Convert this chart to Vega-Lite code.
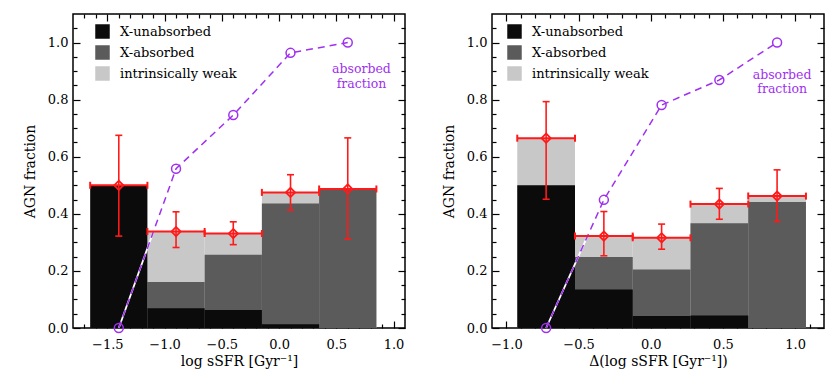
{
  "$schema": "https://vega.github.io/schema/vega-lite/v6.json",
  "padding": {"left": 22, "top": 12, "right": 5, "bottom": 5},
  "config": {
    "view": {"stroke": "black", "strokeWidth": 1.5},
    "font": "DejaVu Serif",
    "axis": {"labelFont": "DejaVu Serif", "labelFontSize": 13, "labelColor": "black", "titleFont": "DejaVu Serif", "titleFontSize": 14, "titleFontWeight": "normal", "titleColor": "black", "domain": false, "grid": false, "tickColor": "black", "tickWidth": 1.2, "labelFlush": false, "labelOverlap": false},
    "legend": {"labelFont": "DejaVu Serif", "labelFontSize": 13, "labelColor": "black"}
  },
  "datasets": {
    "bars1": [
      {"cat": "intrinsically weak", "lo": -1.15, "hi": -0.65, "top": 0.338},
      {"cat": "intrinsically weak", "lo": -0.65, "hi": -0.15, "top": 0.331},
      {"cat": "intrinsically weak", "lo": -0.15, "hi": 0.35, "top": 0.475},
      {"cat": "intrinsically weak", "lo": 0.35, "hi": 0.85, "top": 0.487},
      {"cat": "X-absorbed", "lo": -1.15, "hi": -0.65, "top": 0.161},
      {"cat": "X-absorbed", "lo": -0.65, "hi": -0.15, "top": 0.257},
      {"cat": "X-absorbed", "lo": -0.15, "hi": 0.35, "top": 0.436},
      {"cat": "X-absorbed", "lo": 0.35, "hi": 0.85, "top": 0.484},
      {"cat": "X-unabsorbed", "lo": -1.65, "hi": -1.15, "top": 0.5},
      {"cat": "X-unabsorbed", "lo": -1.15, "hi": -0.65, "top": 0.069},
      {"cat": "X-unabsorbed", "lo": -0.65, "hi": -0.15, "top": 0.063},
      {"cat": "X-unabsorbed", "lo": -0.15, "hi": 0.35, "top": 0.013}
    ],
    "bars2": [
      {"cat": "intrinsically weak", "lo": -0.925, "hi": -0.525, "top": 0.665},
      {"cat": "intrinsically weak", "lo": -0.525, "hi": -0.125, "top": 0.321},
      {"cat": "intrinsically weak", "lo": -0.125, "hi": 0.275, "top": 0.316},
      {"cat": "intrinsically weak", "lo": 0.275, "hi": 0.675, "top": 0.434},
      {"cat": "intrinsically weak", "lo": 0.675, "hi": 1.075, "top": 0.461},
      {"cat": "X-absorbed", "lo": -0.525, "hi": -0.125, "top": 0.249},
      {"cat": "X-absorbed", "lo": -0.125, "hi": 0.275, "top": 0.205},
      {"cat": "X-absorbed", "lo": 0.275, "hi": 0.675, "top": 0.367},
      {"cat": "X-absorbed", "lo": 0.675, "hi": 1.075, "top": 0.441},
      {"cat": "X-unabsorbed", "lo": -0.925, "hi": -0.525, "top": 0.5},
      {"cat": "X-unabsorbed", "lo": -0.525, "hi": -0.125, "top": 0.135},
      {"cat": "X-unabsorbed", "lo": -0.125, "hi": 0.275, "top": 0.042},
      {"cat": "X-unabsorbed", "lo": 0.275, "hi": 0.675, "top": 0.044}
    ],
    "err1": [
      {"x": -1.4, "lo": -1.65, "hi": -1.15, "y": 0.5, "elo": 0.322, "ehi": 0.675},
      {"x": -0.9, "lo": -1.15, "hi": -0.65, "y": 0.338, "elo": 0.282, "ehi": 0.407},
      {"x": -0.4, "lo": -0.65, "hi": -0.15, "y": 0.331, "elo": 0.292, "ehi": 0.372},
      {"x": 0.1, "lo": -0.15, "hi": 0.35, "y": 0.475, "elo": 0.413, "ehi": 0.537},
      {"x": 0.6, "lo": 0.35, "hi": 0.85, "y": 0.487, "elo": 0.311, "ehi": 0.666}
    ],
    "err2": [
      {"x": -0.725, "lo": -0.925, "hi": -0.525, "y": 0.665, "elo": 0.451, "ehi": 0.793},
      {"x": -0.325, "lo": -0.525, "hi": -0.125, "y": 0.322, "elo": 0.253, "ehi": 0.408},
      {"x": 0.075, "lo": -0.125, "hi": 0.275, "y": 0.316, "elo": 0.276, "ehi": 0.364},
      {"x": 0.475, "lo": 0.275, "hi": 0.675, "y": 0.434, "elo": 0.381, "ehi": 0.489},
      {"x": 0.875, "lo": 0.675, "hi": 1.075, "y": 0.462, "elo": 0.373, "ehi": 0.554}
    ],
    "frac1": [
      {"x": -1.4, "f": 0.0},
      {"x": -0.9, "f": 0.558},
      {"x": -0.4, "f": 0.746},
      {"x": 0.1, "f": 0.964},
      {"x": 0.6, "f": 1.0}
    ],
    "frac2": [
      {"x": -0.725, "f": 0.0},
      {"x": -0.325, "f": 0.449},
      {"x": 0.075, "f": 0.781},
      {"x": 0.475, "f": 0.869},
      {"x": 0.875, "f": 1.0}
    ],
    "lab1": [{"x": 0.72, "y": 0.906, "t": "absorbed\nfraction"}],
    "lab2": [{"x": 0.91, "y": 0.887, "t": "absorbed\nfraction"}]
  },
  "spacing": 34,
  "resolve": {"legend": {"fill": "independent"}},
  "hconcat": [
    {
      "width": 332,
      "height": 314,
      "resolve": {"axis": {"x": "independent", "y": "independent"}},
      "layer": [
        {"data": {"name": "bars1"}, "mark": {"type": "rect"},
         "encoding": {
           "x": {"field": "lo", "type": "quantitative", "scale": {"domain": [-1.8, 1.1], "nice": false, "zero": false},
                 "axis": {"orient": "bottom", "values": [-1.5, -1, -0.5, 0, 0.5, 1], "format": ".1f", "tickSize": -7, "labelPadding": 17, "title": "log sSFR [Gyr⁻¹]", "titlePadding": 3}},
           "x2": {"field": "hi"},
           "y": {"field": "top", "type": "quantitative", "scale": {"domain": [0, 1.1], "nice": false, "zero": false},
                 "axis": {"orient": "left", "values": [0, 0.2, 0.4, 0.6, 0.8, 1], "format": ".1f", "tickSize": -7, "labelPadding": 12, "title": "AGN fraction", "titlePadding": 10}},
           "y2": {"datum": 0},
           "fill": {"field": "cat", "type": "nominal", "scale": {"domain": ["X-unabsorbed", "X-absorbed", "intrinsically weak"], "range": ["#0b0b0b", "#5b5b5b", "#c8c8c8"]},
                    "legend": {"orient": "none", "legendX": 22, "legendY": 10, "title": null, "symbolType": "square", "symbolSize": 210, "symbolStrokeWidth": 0, "labelOffset": 10, "rowPadding": 6, "padding": 0}}
         }},
        {"data": {"name": "frac1"}, "mark": {"type": "line", "color": "white", "strokeWidth": 1.8},
         "encoding": {"x": {"field": "x", "type": "quantitative", "scale": {"domain": [-1.8, 1.1], "nice": false, "zero": false}, "axis": null},
                      "y": {"field": "f", "type": "quantitative", "scale": {"domain": [0, 1.1], "nice": false, "zero": false}, "axis": null}}},
        {"data": {"name": "frac1"}, "mark": {"type": "line", "color": "#a030f0", "strokeWidth": 1.5, "strokeDash": [7, 5]},
         "encoding": {"x": {"field": "x", "type": "quantitative", "scale": {"domain": [-1.8, 1.1], "nice": false, "zero": false}, "axis": null},
                      "y": {"field": "f", "type": "quantitative", "scale": {"domain": [0, 1.1], "nice": false, "zero": false}, "axis": null}}},
        {"data": {"name": "frac1"}, "mark": {"type": "point", "shape": "circle", "filled": false, "color": "#a030f0", "size": 80, "strokeWidth": 1.5, "opacity": 1},
         "encoding": {"x": {"field": "x", "type": "quantitative", "scale": {"domain": [-1.8, 1.1], "nice": false, "zero": false}, "axis": null},
                      "y": {"field": "f", "type": "quantitative", "scale": {"domain": [0, 1.1], "nice": false, "zero": false}, "axis": null}}},
        {"data": {"name": "err1"}, "mark": {"type": "rule", "color": "#ff1a1a", "strokeWidth": 2},
         "encoding": {"x": {"field": "lo", "type": "quantitative", "scale": {"domain": [-1.8, 1.1], "nice": false, "zero": false}, "axis": null},
                      "x2": {"field": "hi"},
                      "y": {"field": "y", "type": "quantitative", "scale": {"domain": [0, 1.1], "nice": false, "zero": false}, "axis": null}}},
        {"data": {"name": "err1"}, "mark": {"type": "rule", "color": "#ff1a1a", "strokeWidth": 1.6},
         "encoding": {"x": {"field": "x", "type": "quantitative", "scale": {"domain": [-1.8, 1.1], "nice": false, "zero": false}, "axis": null},
                      "y": {"field": "elo", "type": "quantitative", "scale": {"domain": [0, 1.1], "nice": false, "zero": false}, "axis": null},
                      "y2": {"field": "ehi"}}},
        {"data": {"name": "err1"}, "mark": {"type": "tick", "orient": "vertical", "color": "#ff1a1a", "size": 7, "thickness": 2, "opacity": 1},
         "encoding": {"x": {"field": "lo", "type": "quantitative", "scale": {"domain": [-1.8, 1.1], "nice": false, "zero": false}, "axis": null},
                      "y": {"field": "y", "type": "quantitative", "scale": {"domain": [0, 1.1], "nice": false, "zero": false}, "axis": null}}},
        {"data": {"name": "err1"}, "mark": {"type": "tick", "orient": "vertical", "color": "#ff1a1a", "size": 7, "thickness": 2, "opacity": 1},
         "encoding": {"x": {"field": "hi", "type": "quantitative", "scale": {"domain": [-1.8, 1.1], "nice": false, "zero": false}, "axis": null},
                      "y": {"field": "y", "type": "quantitative", "scale": {"domain": [0, 1.1], "nice": false, "zero": false}, "axis": null}}},
        {"data": {"name": "err1"}, "mark": {"type": "tick", "orient": "horizontal", "color": "#ff1a1a", "size": 7, "thickness": 1.6, "opacity": 1},
         "encoding": {"x": {"field": "x", "type": "quantitative", "scale": {"domain": [-1.8, 1.1], "nice": false, "zero": false}, "axis": null},
                      "y": {"field": "elo", "type": "quantitative", "scale": {"domain": [0, 1.1], "nice": false, "zero": false}, "axis": null}}},
        {"data": {"name": "err1"}, "mark": {"type": "tick", "orient": "horizontal", "color": "#ff1a1a", "size": 7, "thickness": 1.6, "opacity": 1},
         "encoding": {"x": {"field": "x", "type": "quantitative", "scale": {"domain": [-1.8, 1.1], "nice": false, "zero": false}, "axis": null},
                      "y": {"field": "ehi", "type": "quantitative", "scale": {"domain": [0, 1.1], "nice": false, "zero": false}, "axis": null}}},
        {"data": {"name": "err1"}, "mark": {"type": "point", "shape": "diamond", "filled": false, "color": "#ff1a1a", "size": 85, "strokeWidth": 1.8, "opacity": 1},
         "encoding": {"x": {"field": "x", "type": "quantitative", "scale": {"domain": [-1.8, 1.1], "nice": false, "zero": false}, "axis": null},
                      "y": {"field": "y", "type": "quantitative", "scale": {"domain": [0, 1.1], "nice": false, "zero": false}, "axis": null}}},
        {"data": {"name": "lab1"}, "mark": {"type": "text", "color": "#a030f0", "font": "DejaVu Serif", "fontSize": 12.5, "lineBreak": "\n", "lineHeight": 14.5, "align": "center", "baseline": "middle"},
         "encoding": {"x": {"field": "x", "type": "quantitative", "scale": {"domain": [-1.8, 1.1], "nice": false, "zero": false}, "axis": null},
                      "y": {"field": "y", "type": "quantitative", "scale": {"domain": [0, 1.1], "nice": false, "zero": false}, "axis": null},
                      "text": {"field": "t"}}},
        {"data": {"name": "frac1"}, "mark": {"type": "point", "opacity": 0},
         "encoding": {"x": {"field": "x", "type": "quantitative", "scale": {"domain": [-1.8, 1.1], "nice": false, "zero": false},
                            "axis": {"orient": "bottom", "values": [-1.7, -1.6, -1.4, -1.3, -1.2, -1.1, -0.9, -0.8, -0.7, -0.6, -0.4, -0.3, -0.2, -0.1, 0.1, 0.2, 0.3, 0.4, 0.6, 0.7, 0.8, 0.9], "labels": false, "tickSize": -4, "title": null}},
                      "y": {"field": "f", "type": "quantitative", "scale": {"domain": [0, 1.1], "nice": false, "zero": false},
                            "axis": {"orient": "left", "values": [0.05, 0.1, 0.15, 0.25, 0.3, 0.35, 0.45, 0.5, 0.55, 0.65, 0.7, 0.75, 0.85, 0.9, 0.95, 1.05], "labels": false, "tickSize": -4, "title": null}}}},
        {"data": {"name": "frac1"}, "mark": {"type": "point", "opacity": 0},
         "encoding": {"x": {"field": "x", "type": "quantitative", "scale": {"domain": [-1.8, 1.1], "nice": false, "zero": false},
                            "axis": {"orient": "top", "values": [-1.5, -1, -0.5, 0, 0.5, 1], "labels": false, "tickSize": -7, "title": null}},
                      "y": {"field": "f", "type": "quantitative", "scale": {"domain": [0, 1.1], "nice": false, "zero": false},
                            "axis": {"orient": "right", "values": [0, 0.2, 0.4, 0.6, 0.8, 1], "labels": false, "tickSize": -7, "title": null}}}},
        {"data": {"name": "frac1"}, "mark": {"type": "point", "opacity": 0},
         "encoding": {"x": {"field": "x", "type": "quantitative", "scale": {"domain": [-1.8, 1.1], "nice": false, "zero": false},
                            "axis": {"orient": "top", "values": [-1.7, -1.6, -1.4, -1.3, -1.2, -1.1, -0.9, -0.8, -0.7, -0.6, -0.4, -0.3, -0.2, -0.1, 0.1, 0.2, 0.3, 0.4, 0.6, 0.7, 0.8, 0.9], "labels": false, "tickSize": -4, "title": null}},
                      "y": {"field": "f", "type": "quantitative", "scale": {"domain": [0, 1.1], "nice": false, "zero": false},
                            "axis": {"orient": "right", "values": [0.05, 0.1, 0.15, 0.25, 0.3, 0.35, 0.45, 0.5, 0.55, 0.65, 0.7, 0.75, 0.85, 0.9, 0.95, 1.05], "labels": false, "tickSize": -4, "title": null}}}}
      ]
    },
    {
      "width": 332,
      "height": 314,
      "resolve": {"axis": {"x": "independent", "y": "independent"}},
      "layer": [
        {"data": {"name": "bars2"}, "mark": {"type": "rect"},
         "encoding": {
           "x": {"field": "lo", "type": "quantitative", "scale": {"domain": [-1.1, 1.2], "nice": false, "zero": false},
                 "axis": {"orient": "bottom", "values": [-1, -0.5, 0, 0.5, 1], "format": ".1f", "tickSize": -7, "labelPadding": 17, "title": "Δ(log sSFR [Gyr⁻¹])", "titlePadding": 3}},
           "x2": {"field": "hi"},
           "y": {"field": "top", "type": "quantitative", "scale": {"domain": [0, 1.1], "nice": false, "zero": false},
                 "axis": {"orient": "left", "values": [0, 0.2, 0.4, 0.6, 0.8, 1], "format": ".1f", "tickSize": -7, "labelPadding": 12, "title": "AGN fraction", "titlePadding": 10}},
           "y2": {"datum": 0},
           "fill": {"field": "cat", "type": "nominal", "scale": {"domain": ["X-unabsorbed", "X-absorbed", "intrinsically weak"], "range": ["#0b0b0b", "#5b5b5b", "#c8c8c8"]},
                    "legend": {"orient": "none", "legendX": 15, "legendY": 10, "title": null, "symbolType": "square", "symbolSize": 210, "symbolStrokeWidth": 0, "labelOffset": 10, "rowPadding": 6, "padding": 0}}
         }},
        {"data": {"name": "frac2"}, "mark": {"type": "line", "color": "white", "strokeWidth": 1.8},
         "encoding": {"x": {"field": "x", "type": "quantitative", "scale": {"domain": [-1.1, 1.2], "nice": false, "zero": false}, "axis": null},
                      "y": {"field": "f", "type": "quantitative", "scale": {"domain": [0, 1.1], "nice": false, "zero": false}, "axis": null}}},
        {"data": {"name": "frac2"}, "mark": {"type": "line", "color": "#a030f0", "strokeWidth": 1.5, "strokeDash": [7, 5]},
         "encoding": {"x": {"field": "x", "type": "quantitative", "scale": {"domain": [-1.1, 1.2], "nice": false, "zero": false}, "axis": null},
                      "y": {"field": "f", "type": "quantitative", "scale": {"domain": [0, 1.1], "nice": false, "zero": false}, "axis": null}}},
        {"data": {"name": "frac2"}, "mark": {"type": "point", "shape": "circle", "filled": false, "color": "#a030f0", "size": 80, "strokeWidth": 1.5, "opacity": 1},
         "encoding": {"x": {"field": "x", "type": "quantitative", "scale": {"domain": [-1.1, 1.2], "nice": false, "zero": false}, "axis": null},
                      "y": {"field": "f", "type": "quantitative", "scale": {"domain": [0, 1.1], "nice": false, "zero": false}, "axis": null}}},
        {"data": {"name": "err2"}, "mark": {"type": "rule", "color": "#ff1a1a", "strokeWidth": 2},
         "encoding": {"x": {"field": "lo", "type": "quantitative", "scale": {"domain": [-1.1, 1.2], "nice": false, "zero": false}, "axis": null},
                      "x2": {"field": "hi"},
                      "y": {"field": "y", "type": "quantitative", "scale": {"domain": [0, 1.1], "nice": false, "zero": false}, "axis": null}}},
        {"data": {"name": "err2"}, "mark": {"type": "rule", "color": "#ff1a1a", "strokeWidth": 1.6},
         "encoding": {"x": {"field": "x", "type": "quantitative", "scale": {"domain": [-1.1, 1.2], "nice": false, "zero": false}, "axis": null},
                      "y": {"field": "elo", "type": "quantitative", "scale": {"domain": [0, 1.1], "nice": false, "zero": false}, "axis": null},
                      "y2": {"field": "ehi"}}},
        {"data": {"name": "err2"}, "mark": {"type": "tick", "orient": "vertical", "color": "#ff1a1a", "size": 7, "thickness": 2, "opacity": 1},
         "encoding": {"x": {"field": "lo", "type": "quantitative", "scale": {"domain": [-1.1, 1.2], "nice": false, "zero": false}, "axis": null},
                      "y": {"field": "y", "type": "quantitative", "scale": {"domain": [0, 1.1], "nice": false, "zero": false}, "axis": null}}},
        {"data": {"name": "err2"}, "mark": {"type": "tick", "orient": "vertical", "color": "#ff1a1a", "size": 7, "thickness": 2, "opacity": 1},
         "encoding": {"x": {"field": "hi", "type": "quantitative", "scale": {"domain": [-1.1, 1.2], "nice": false, "zero": false}, "axis": null},
                      "y": {"field": "y", "type": "quantitative", "scale": {"domain": [0, 1.1], "nice": false, "zero": false}, "axis": null}}},
        {"data": {"name": "err2"}, "mark": {"type": "tick", "orient": "horizontal", "color": "#ff1a1a", "size": 7, "thickness": 1.6, "opacity": 1},
         "encoding": {"x": {"field": "x", "type": "quantitative", "scale": {"domain": [-1.1, 1.2], "nice": false, "zero": false}, "axis": null},
                      "y": {"field": "elo", "type": "quantitative", "scale": {"domain": [0, 1.1], "nice": false, "zero": false}, "axis": null}}},
        {"data": {"name": "err2"}, "mark": {"type": "tick", "orient": "horizontal", "color": "#ff1a1a", "size": 7, "thickness": 1.6, "opacity": 1},
         "encoding": {"x": {"field": "x", "type": "quantitative", "scale": {"domain": [-1.1, 1.2], "nice": false, "zero": false}, "axis": null},
                      "y": {"field": "ehi", "type": "quantitative", "scale": {"domain": [0, 1.1], "nice": false, "zero": false}, "axis": null}}},
        {"data": {"name": "err2"}, "mark": {"type": "point", "shape": "diamond", "filled": false, "color": "#ff1a1a", "size": 85, "strokeWidth": 1.8, "opacity": 1},
         "encoding": {"x": {"field": "x", "type": "quantitative", "scale": {"domain": [-1.1, 1.2], "nice": false, "zero": false}, "axis": null},
                      "y": {"field": "y", "type": "quantitative", "scale": {"domain": [0, 1.1], "nice": false, "zero": false}, "axis": null}}},
        {"data": {"name": "lab2"}, "mark": {"type": "text", "color": "#a030f0", "font": "DejaVu Serif", "fontSize": 12.5, "lineBreak": "\n", "lineHeight": 14.5, "align": "center", "baseline": "middle"},
         "encoding": {"x": {"field": "x", "type": "quantitative", "scale": {"domain": [-1.1, 1.2], "nice": false, "zero": false}, "axis": null},
                      "y": {"field": "y", "type": "quantitative", "scale": {"domain": [0, 1.1], "nice": false, "zero": false}, "axis": null},
                      "text": {"field": "t"}}},
        {"data": {"name": "frac2"}, "mark": {"type": "point", "opacity": 0},
         "encoding": {"x": {"field": "x", "type": "quantitative", "scale": {"domain": [-1.1, 1.2], "nice": false, "zero": false},
                            "axis": {"orient": "bottom", "values": [-0.9, -0.8, -0.7, -0.6, -0.4, -0.3, -0.2, -0.1, 0.1, 0.2, 0.3, 0.4, 0.6, 0.7, 0.8, 0.9, 1.1], "labels": false, "tickSize": -4, "title": null}},
                      "y": {"field": "f", "type": "quantitative", "scale": {"domain": [0, 1.1], "nice": false, "zero": false},
                            "axis": {"orient": "left", "values": [0.05, 0.1, 0.15, 0.25, 0.3, 0.35, 0.45, 0.5, 0.55, 0.65, 0.7, 0.75, 0.85, 0.9, 0.95, 1.05], "labels": false, "tickSize": -4, "title": null}}}},
        {"data": {"name": "frac2"}, "mark": {"type": "point", "opacity": 0},
         "encoding": {"x": {"field": "x", "type": "quantitative", "scale": {"domain": [-1.1, 1.2], "nice": false, "zero": false},
                            "axis": {"orient": "top", "values": [-1, -0.5, 0, 0.5, 1], "labels": false, "tickSize": -7, "title": null}},
                      "y": {"field": "f", "type": "quantitative", "scale": {"domain": [0, 1.1], "nice": false, "zero": false},
                            "axis": {"orient": "right", "values": [0, 0.2, 0.4, 0.6, 0.8, 1], "labels": false, "tickSize": -7, "title": null}}}},
        {"data": {"name": "frac2"}, "mark": {"type": "point", "opacity": 0},
         "encoding": {"x": {"field": "x", "type": "quantitative", "scale": {"domain": [-1.1, 1.2], "nice": false, "zero": false},
                            "axis": {"orient": "top", "values": [-0.9, -0.8, -0.7, -0.6, -0.4, -0.3, -0.2, -0.1, 0.1, 0.2, 0.3, 0.4, 0.6, 0.7, 0.8, 0.9, 1.1], "labels": false, "tickSize": -4, "title": null}},
                      "y": {"field": "f", "type": "quantitative", "scale": {"domain": [0, 1.1], "nice": false, "zero": false},
                            "axis": {"orient": "right", "values": [0.05, 0.1, 0.15, 0.25, 0.3, 0.35, 0.45, 0.5, 0.55, 0.65, 0.7, 0.75, 0.85, 0.9, 0.95, 1.05], "labels": false, "tickSize": -4, "title": null}}}}
      ]
    }
  ]
}
